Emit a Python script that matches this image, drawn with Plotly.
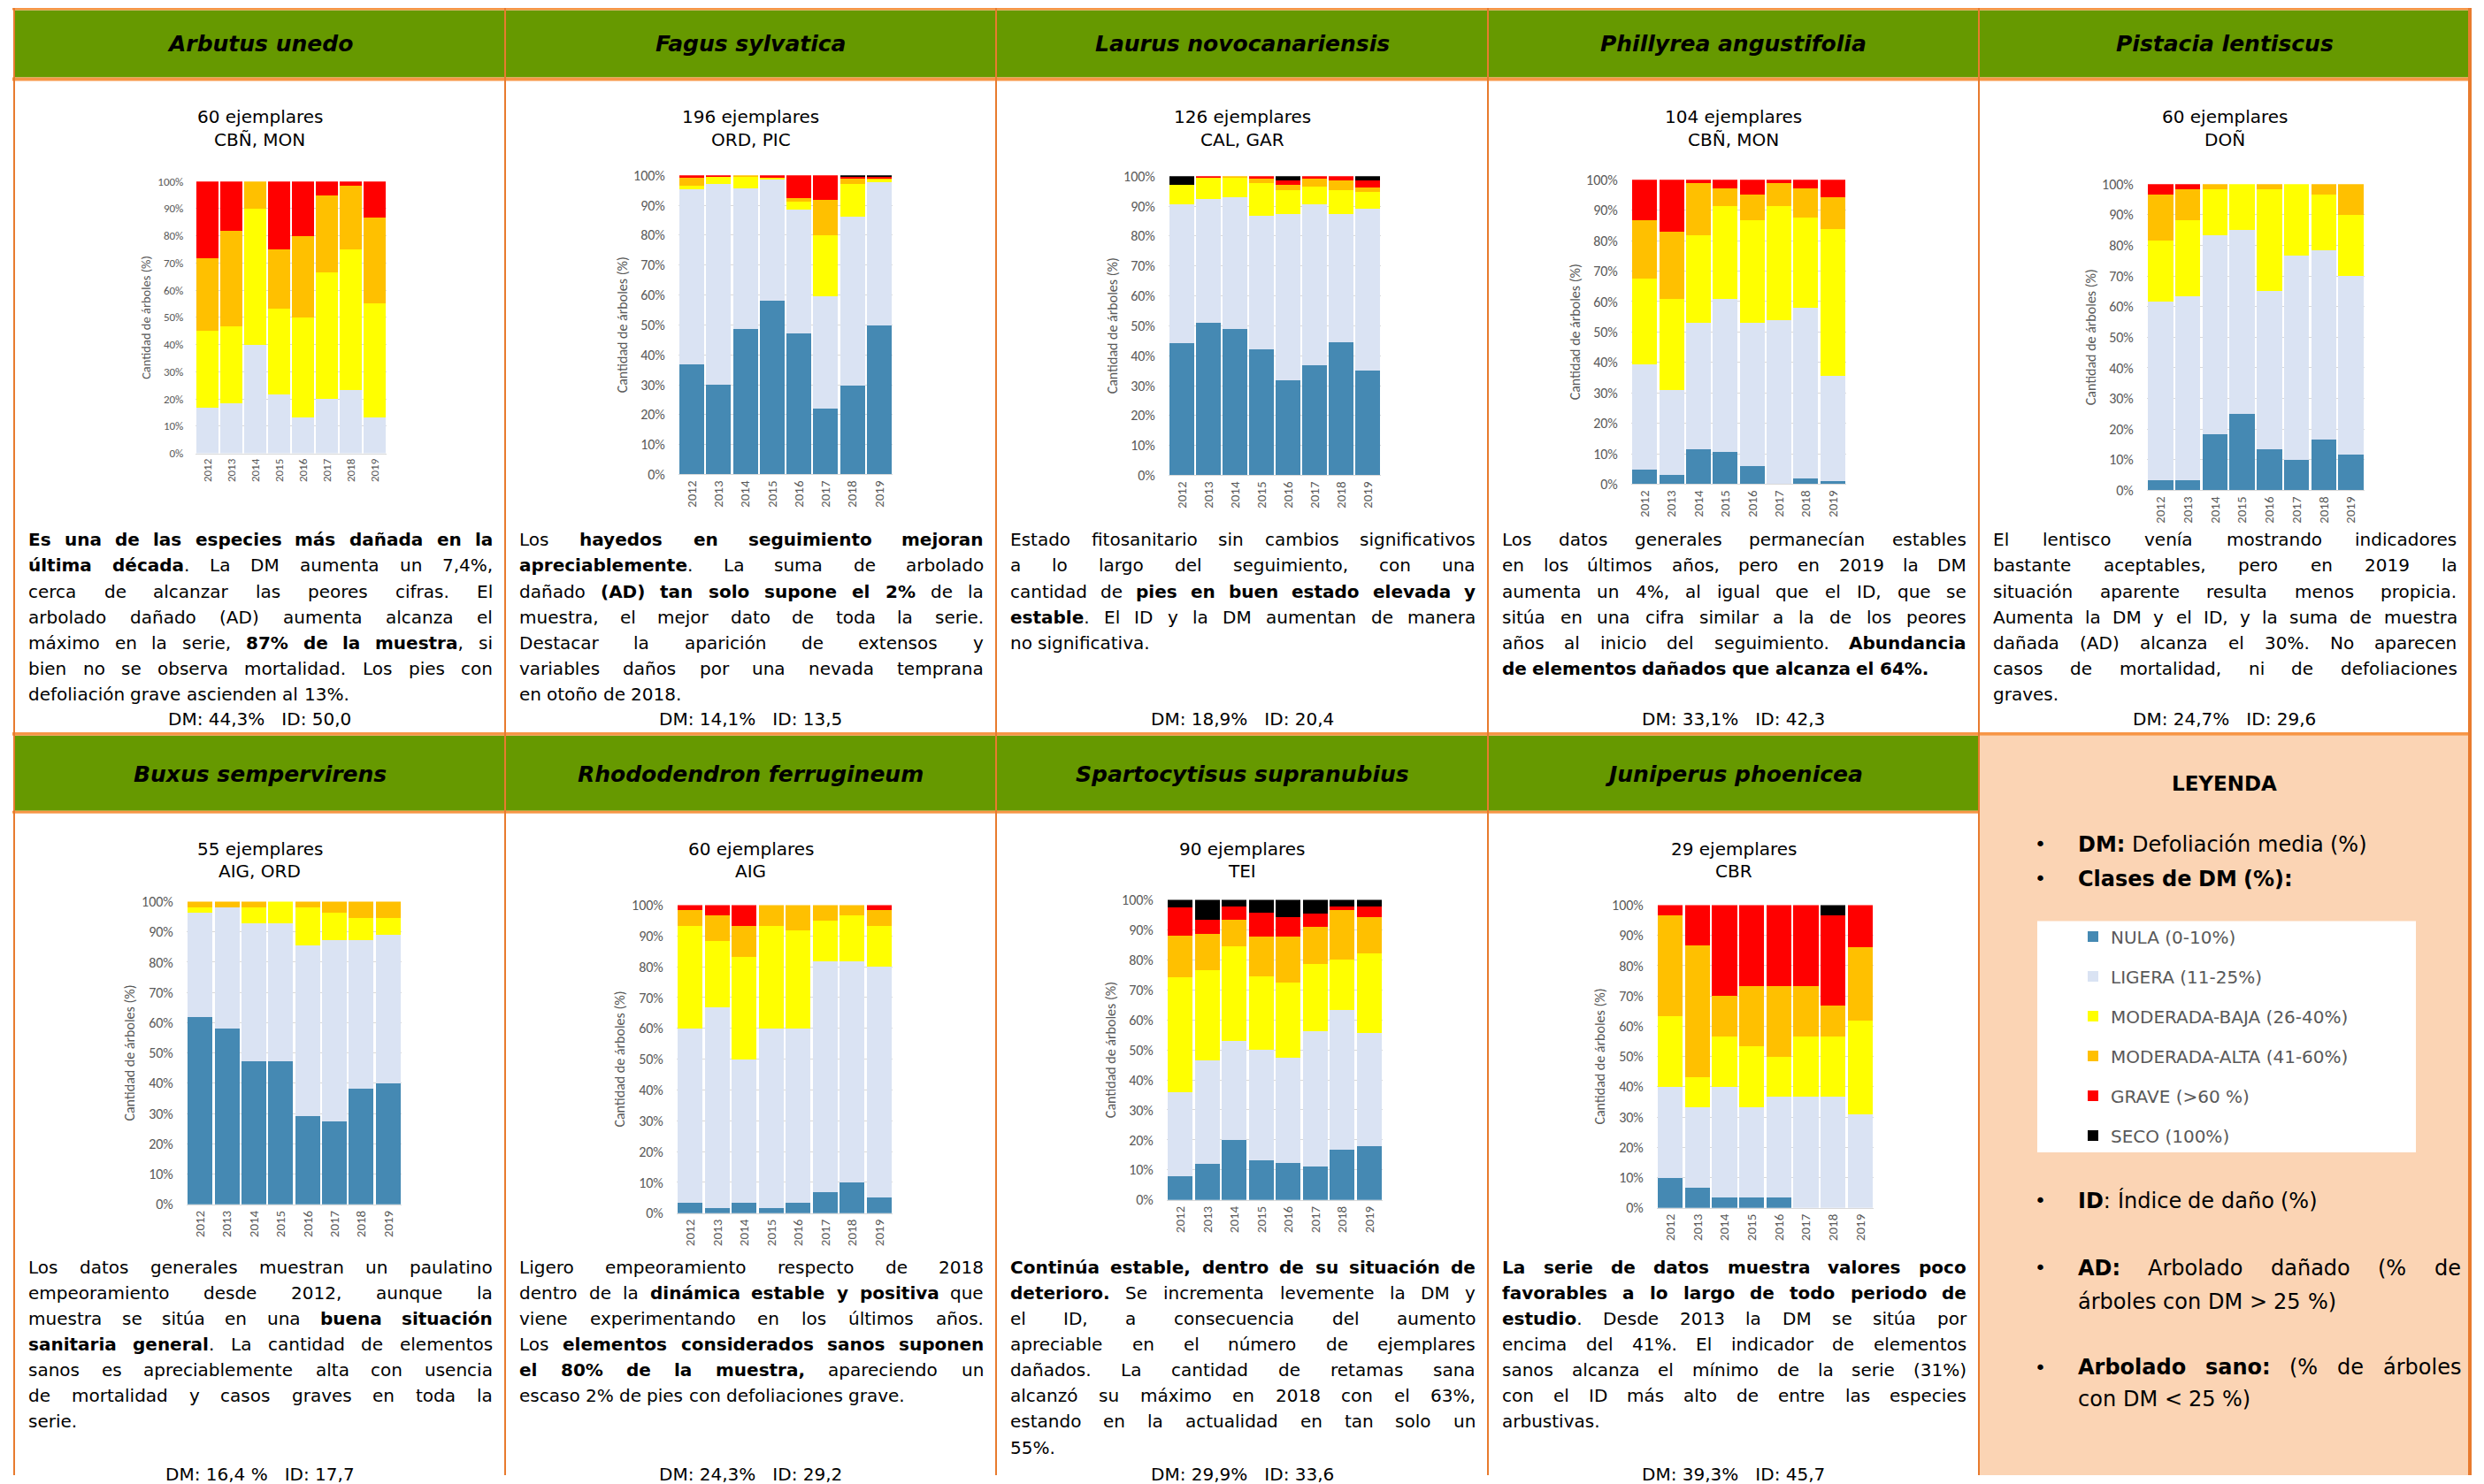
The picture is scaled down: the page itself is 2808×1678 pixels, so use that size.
import glob
import os
import struct

import plotly.graph_objects as go

W, H = 2808, 1678

# ---------------------------------------------------------------- data
years = ["2012", "2013", "2014", "2015", "2016", "2017", "2018", "2019"]
classes = ["NULA (0-10%)", "LIGERA (11-25%)", "MODERADA-BAJA (26-40%)",
           "MODERADA-ALTA (41-60%)", "GRAVE (>60 %)", "SECO (100%)"]
class_colors = ["#4589B3", "#DAE3F3", "#FFFF00", "#FFC000", "#FF0000", "#000000"]

# % of trees in each defoliation class (rows follow `classes`, columns follow `years`)
arbutus_unedo = [
    [0, 0, 0, 0, 0, 0, 0, 0],
    [16.7, 18.3, 40.0, 21.7, 13.3, 20.0, 23.3, 13.3],
    [28.3, 28.4, 50.0, 31.6, 36.7, 46.7, 51.7, 41.7],
    [26.7, 35.0, 10.0, 21.7, 30.0, 28.3, 23.3, 31.7],
    [28.3, 18.3, 0, 25.0, 20.0, 5.0, 1.7, 13.3],
    [0, 0, 0, 0, 0, 0, 0, 0],
]
fagus_sylvatica = [
    [36.9, 30.1, 48.6, 58.0, 47.0, 22.0, 29.6, 49.9],
    [58.4, 67.0, 47.0, 40.5, 41.4, 37.7, 56.6, 47.8],
    [1.3, 2.6, 4.1, 0.6, 2.8, 20.4, 11.0, 1.0],
    [2.7, 0, 0.3, 0, 1.2, 11.8, 1.9, 0.4],
    [0.7, 0.3, 0, 0.9, 7.6, 8.1, 0.4, 0.4],
    [0, 0, 0, 0, 0, 0, 0.5, 0.5],
]
laurus_novocanariensis = [
    [44.3, 50.9, 48.8, 42.1, 31.8, 36.7, 44.5, 35.0],
    [46.3, 41.4, 44.3, 44.7, 55.6, 53.9, 42.9, 54.2],
    [6.4, 7.2, 6.4, 11.0, 8.0, 5.8, 8.0, 5.6],
    [0, 0, 0.5, 1.5, 1.6, 2.9, 3.3, 1.5],
    [0, 0.5, 0, 0.7, 1.7, 0.7, 1.3, 2.4],
    [3.0, 0, 0, 0, 1.3, 0, 0, 1.3],
]
phillyrea_angustifolia = [
    [4.7, 3.0, 11.6, 10.5, 5.9, 0, 1.8, 0.9],
    [34.7, 27.8, 41.3, 50.2, 47.0, 53.9, 56.0, 34.7],
    [28.0, 29.9, 28.8, 30.6, 33.8, 37.4, 29.9, 48.2],
    [19.3, 22.1, 17.3, 5.9, 8.5, 7.7, 9.5, 10.4],
    [13.3, 17.2, 1.0, 2.8, 4.8, 1.0, 2.8, 5.8],
    [0, 0, 0, 0, 0, 0, 0, 0],
]
pistacia_lentiscus = [
    [3.3, 3.3, 18.3, 25.0, 13.3, 10.0, 16.7, 11.7],
    [58.3, 60.0, 65.0, 60.0, 51.7, 66.7, 61.6, 58.3],
    [20.0, 25.0, 15.0, 15.0, 33.3, 23.3, 18.4, 20.0],
    [15.0, 10.0, 1.7, 0, 1.7, 0, 3.3, 10.0],
    [3.4, 1.7, 0, 0, 0, 0, 0, 0],
    [0, 0, 0, 0, 0, 0, 0, 0],
]
buxus_sempervirens = [
    [61.8, 58.2, 47.3, 47.3, 29.1, 27.3, 38.2, 40.0],
    [34.6, 40.0, 45.5, 45.5, 56.4, 60.0, 49.1, 49.1],
    [1.8, 0, 5.4, 7.2, 12.7, 9.1, 7.2, 5.4],
    [1.8, 1.8, 1.8, 0, 1.8, 3.6, 5.5, 5.5],
    [0, 0, 0, 0, 0, 0, 0, 0],
    [0, 0, 0, 0, 0, 0, 0, 0],
]
rhododendron_ferrugineum = [
    [3.3, 1.7, 3.3, 1.7, 3.3, 6.7, 10.0, 5.0],
    [56.7, 65.0, 46.7, 58.3, 56.7, 75.0, 71.7, 75.0],
    [33.3, 21.6, 33.3, 33.3, 31.7, 13.3, 15.0, 13.3],
    [5.0, 8.4, 10.0, 6.7, 8.3, 5.0, 3.3, 5.0],
    [1.7, 3.3, 6.7, 0, 0, 0, 0, 1.7],
    [0, 0, 0, 0, 0, 0, 0, 0],
]
spartocytisus_supranubius = [
    [7.8, 12.0, 20.0, 13.3, 12.2, 11.1, 16.7, 17.8],
    [28.2, 34.6, 33.1, 36.7, 35.3, 45.0, 46.6, 37.8],
    [38.2, 29.9, 31.4, 24.5, 24.8, 22.5, 16.7, 26.6],
    [14.0, 12.2, 8.8, 13.2, 15.4, 12.4, 16.7, 12.1],
    [9.3, 4.6, 4.4, 7.9, 6.6, 4.4, 1.0, 3.4],
    [2.5, 6.7, 2.3, 4.4, 5.7, 4.6, 2.3, 2.3],
]
juniperus_phoenicea = [
    [10.0, 6.7, 3.3, 3.3, 3.3, 0, 0, 0],
    [30.0, 26.6, 36.7, 30.0, 33.4, 36.7, 36.7, 31.0],
    [23.3, 10.0, 16.7, 20.0, 13.3, 20.0, 20.0, 31.0],
    [33.4, 43.4, 13.3, 20.0, 23.3, 16.6, 10.0, 24.1],
    [3.3, 13.3, 30.0, 26.7, 26.7, 26.7, 30.0, 13.9],
    [0, 0, 0, 0, 0, 0, 3.3, 0],
]

species = ["Arbutus unedo", "Fagus sylvatica", "Laurus novocanariensis",
           "Phillyrea angustifolia", "Pistacia lentiscus", "Buxus sempervirens",
           "Rhododendron ferrugineum", "Spartocytisus supranubius", "Juniperus phoenicea"]
species_data = [arbutus_unedo, fagus_sylvatica, laurus_novocanariensis,
                phillyrea_angustifolia, pistacia_lentiscus, buxus_sempervirens,
                rhododendron_ferrugineum, spartocytisus_supranubius, juniperus_phoenicea]
sample_sizes = [60, 196, 126, 104, 60, 55, 60, 90, 29]
sites = ["CBÑ, MON", "ORD, PIC", "CAL, GAR", "CBÑ, MON", "DOÑ",
         "AIG, ORD", "AIG", "TEI", "CBR"]
dm_values = ["44,3%", "14,1%", "18,9%", "33,1%", "24,7%", "16,4 %", "24,3%", "29,9%", "39,3%"]
id_values = ["50,0", "13,5", "20,4", "42,3", "29,6", "17,7", "29,2", "33,6", "45,7"]

# commentary for each species; **...** marks bold runs
comments = [
    ["**Es una de las especies más dañada en la**",
     "**última década**. La DM aumenta un 7,4%,",
     "cerca de alcanzar las peores cifras. El",
     "arbolado dañado (AD) aumenta alcanza el",
     "máximo en la serie, **87% de la muestra**, si",
     "bien no se observa mortalidad. Los pies con",
     "defoliación grave ascienden al 13%."],
    ["Los **hayedos en seguimiento mejoran**",
     "**apreciablemente**. La suma de arbolado",
     "dañado **(AD) tan solo supone el 2%** de la",
     "muestra, el mejor dato de toda la serie.",
     "Destacar la aparición de extensos y",
     "variables daños por una nevada temprana",
     "en otoño de 2018."],
    ["Estado fitosanitario sin cambios significativos",
     "a lo largo del seguimiento, con una",
     "cantidad de **pies en buen estado elevada y**",
     "**estable**. El ID y la DM aumentan de manera",
     "no significativa."],
    ["Los datos generales permanecían estables",
     "en los últimos años, pero en 2019 la DM",
     "aumenta un 4%, al igual que el ID, que se",
     "sitúa en una cifra similar a la de los peores",
     "años al inicio del seguimiento. **Abundancia**",
     "**de elementos dañados que alcanza el 64%.**"],
    ["El lentisco venía mostrando indicadores",
     "bastante aceptables, pero en 2019 la",
     "situación aparente resulta menos propicia.",
     "Aumenta la DM y el ID, y la suma de muestra",
     "dañada (AD) alcanza el 30%. No aparecen",
     "casos de mortalidad, ni de defoliaciones",
     "graves."],
    ["Los datos generales muestran un paulatino",
     "empeoramiento desde 2012, aunque la",
     "muestra se sitúa en una **buena situación**",
     "**sanitaria general**. La cantidad de elementos",
     "sanos es apreciablemente alta con usencia",
     "de mortalidad y casos graves en toda la",
     "serie."],
    ["Ligero empeoramiento respecto de 2018",
     "dentro de la **dinámica estable y positiva** que",
     "viene experimentando en los últimos años.",
     "Los **elementos considerados sanos suponen**",
     "**el 80% de la muestra,** apareciendo un",
     "escaso 2% de pies con defoliaciones grave."],
    ["**Continúa estable, dentro de su situación de**",
     "**deterioro.** Se incrementa levemente la DM y",
     "el ID, a consecuencia del aumento",
     "apreciable en el número de ejemplares",
     "dañados. La cantidad de retamas sana",
     "alcanzó su máximo en 2018 con el 63%,",
     "estando en la actualidad en tan solo un",
     "55%."],
    ["**La serie de datos muestra valores poco**",
     "**favorables a lo largo de todo periodo de**",
     "**estudio**. Desde 2013 la DM se sitúa por",
     "encima del 41%. El indicador de elementos",
     "sanos alcanza el mínimo de la serie (31%)",
     "con el ID más alto de entre las especies",
     "arbustivas."],
]

# ---------------------------------------------------------------- styling / geometry
TEXT_FONT = "DejaVu Sans"
CHART_FONT = "Carlito, Lato, sans-serif"
GREEN = "#669900"
PEACH = "#FBD4B4"
ORANGE = "#F79646"
ORANGE_DARK = "#E87B2E"
AXIS_GREY = "#595959"
GRID = "#D9D9D9"

col_edges = [16, 571, 1126, 1682, 2237, 2792]
# plot areas in pixels: (left, right, top, bottom)
plot_boxes = [
    (221, 437, 204, 512), (767, 1009, 197, 536), (1321, 1561, 198, 537),
    (1844, 2087, 202, 547), (2427, 2673, 207, 554),
    (211, 454, 1020, 1363), (765, 1009, 1024, 1373), (1319, 1563, 1018, 1358),
    (1873, 2118, 1024, 1367),
]
row_geom = [
    dict(title_y=48, sub_y=(131, 157), para_y=610, dm_y=813),
    dict(title_y=876, sub_y=(960, 985), para_y=1434, dm_y=1669),
]
LINE_STEP = 29.2
BODY_SIZE = 20

# vertical calibration of page positions (offset in px, scale)
Y_OFFSET = 7.4
Y_SCALE = 0.99075


def px(x):
    return x / W


def py(y):
    return 1 - ((y - Y_OFFSET) / Y_SCALE) / H


# ---------------------------------------------------------------- font metrics (for justified text)
def _parse_ttf(path):
    data = open(path, "rb").read()
    num = struct.unpack(">H", data[4:6])[0]
    tables = {}
    for i in range(num):
        tag, _, off, _ = struct.unpack(">4sIII", data[12 + 16 * i: 28 + 16 * i])
        tables[tag.decode("latin-1")] = off
    head = tables["head"]
    upem = struct.unpack(">H", data[head + 18: head + 20])[0]
    hhea = tables["hhea"]
    n_hm = struct.unpack(">H", data[hhea + 34: hhea + 36])[0]
    hmtx = tables["hmtx"]
    adv = struct.unpack(">%dH" % (2 * n_hm), data[hmtx: hmtx + 4 * n_hm])[0::2]
    cmap = tables["cmap"]
    n_sub = struct.unpack(">H", data[cmap + 2: cmap + 4])[0]
    sub = None
    for i in range(n_sub):
        pid, eid, off = struct.unpack(">HHI", data[cmap + 4 + 8 * i: cmap + 12 + 8 * i])
        fmt = struct.unpack(">H", data[cmap + off: cmap + off + 2])[0]
        if fmt == 4 and (pid, eid) in ((3, 1), (0, 3), (0, 4), (0, 1), (0, 0)):
            sub = cmap + off
            break
    if sub is None:
        raise ValueError("no format 4 cmap")
    seg2 = struct.unpack(">H", data[sub + 6: sub + 8])[0]
    n = seg2 // 2
    ends = struct.unpack(">%dH" % n, data[sub + 14: sub + 14 + seg2])
    starts = struct.unpack(">%dH" % n, data[sub + 16 + seg2: sub + 16 + 2 * seg2])
    deltas = struct.unpack(">%dH" % n, data[sub + 16 + 2 * seg2: sub + 16 + 3 * seg2])
    ro_pos = sub + 16 + 3 * seg2
    ros = struct.unpack(">%dH" % n, data[ro_pos: ro_pos + seg2])

    def glyph(c):
        for k in range(n):
            if ends[k] >= c:
                if starts[k] > c:
                    return 0
                if ros[k] == 0:
                    return (c + deltas[k]) & 0xFFFF
                p = ro_pos + 2 * k + ros[k] + 2 * (c - starts[k])
                g = struct.unpack(">H", data[p: p + 2])[0]
                return (g + deltas[k]) & 0xFFFF if g else 0
        return 0

    cache = {}

    def advance(ch):
        if ch not in cache:
            cache[ch] = adv[min(glyph(ord(ch)), n_hm - 1)] / upem
        return cache[ch]

    return advance


def _find_font(name):
    roots = ["/usr/share/fonts", "/usr/local/share/fonts",
             os.path.expanduser("~/.fonts"), os.path.expanduser("~/.local/share/fonts")]
    for root in roots:
        hits = glob.glob(os.path.join(root, "**", name), recursive=True)
        if hits:
            try:
                return _parse_ttf(hits[0])
            except Exception:
                pass
    return None


_adv_regular = _find_font("DejaVuSans.ttf") or (lambda ch: 0.32 if ch == " " else 0.58)
_adv_bold = _find_font("DejaVuSans-Bold.ttf") or (lambda ch: 0.35 if ch == " " else 0.66)


def text_width(s, bold, size):
    f = _adv_bold if bold else _adv_regular
    return size * sum(f(ch) for ch in s)


def esc(s):
    return s.replace("&", "&amp;").replace("<", "&lt;").replace(">", "&gt;")


def tokenize(line):
    """Split a line into words; each word is a list of (text, bold) runs."""
    words, cur = [], []
    for i, seg in enumerate(line.split("**")):
        bold = i % 2 == 1
        for k, part in enumerate(seg.split(" ")):
            if k > 0 and cur:
                words.append(cur)
                cur = []
            if part:
                cur.append((part, bold))
    if cur:
        words.append(cur)
    return words


annotations = []


def add_text(x, y, text, size, color="#000000", xanchor="center", family=TEXT_FONT, angle=0):
    annotations.append(dict(x=px(x), y=py(y), xref="paper", yref="paper", text=text,
                            showarrow=False, xanchor=xanchor, yanchor="middle",
                            textangle=angle, font=dict(family=family, size=size, color=color)))


def place_line(line, x0, x1, y, size, justify):
    words = tokenize(line)
    if not words:
        return
    avail = x1 - x0

    def widths_at(sz):
        return [sum(text_width(t, b, sz) for t, b in w) for w in words]

    widths = widths_at(size)
    space = text_width(" ", False, size)
    natural = sum(widths) + space * (len(words) - 1)
    if natural > avail:
        size = size * avail / natural
        widths = widths_at(size)
        space = text_width(" ", False, size)
    if justify and len(words) > 1:
        gap = (avail - sum(widths)) / (len(words) - 1)
    else:
        gap = space
    x = x0
    for w, wd in zip(words, widths):
        html = "".join(("<b>%s</b>" % esc(t)) if b else esc(t) for t, b in w)
        add_text(x - 1, y, html, size, xanchor="left")
        x += wd + gap


def place_paragraph(lines, x0, x1, y0, step, size):
    for j, line in enumerate(lines):
        place_line(line, x0, x1, y0 + j * step, size, justify=(j < len(lines) - 1))


# ---------------------------------------------------------------- frame shapes
shapes = []


def rect(x0, y0, x1, y1, color):
    shapes.append(dict(type="rect", xref="paper", yref="paper",
                       x0=px(x0), x1=px(x1), y0=max(py(y1), 0.0), y1=min(py(y0), 1.0),
                       fillcolor=color, line=dict(width=0), layer="below"))


BOTTOM = H + 20
rect(16, 10, 2792, 86, GREEN)
rect(16, 832, 2237, 917, GREEN)
rect(2237, 832, 2792, BOTTOM, PEACH)
rect(2303, 1042, 2731, 1304, "#FFFFFF")
rect(14, 7, 2794, 10, ORANGE)
rect(14, 86, 2794, 90, ORANGE)
rect(14, 828, 2794, 832, ORANGE)
rect(14, 917, 2237, 920, ORANGE)
for xe in col_edges[:-1]:
    rect(xe - 1, 7, xe + 1, BOTTOM, ORANGE_DARK)
rect(2790, 7, 2794, BOTTOM, ORANGE_DARK)

# ---------------------------------------------------------------- figure
fig = go.Figure()
layout = {}

for i, (name, data) in enumerate(zip(species, species_data)):
    s = "" if i == 0 else str(i + 1)
    for k, cls in enumerate(classes):
        fig.add_trace(go.Bar(
            x=years, y=data[k], name=cls, marker=dict(color=class_colors[k], line=dict(width=0)),
            xaxis="x" + s, yaxis="y" + s, showlegend=(i == 0), legendgroup=cls,
            hoverinfo="skip"))

    x0, x1, y0, y1 = plot_boxes[i]
    small = i == 0
    y_font = dict(family=CHART_FONT, size=13 if small else 16, color=AXIS_GREY)
    x_font = dict(family=CHART_FONT, size=13 if small else 15, color=AXIS_GREY)
    layout["xaxis" + s] = dict(domain=[px(x0), px(x1)], anchor="y" + s, type="category",
                               tickangle=-90, tickfont=x_font, showgrid=False,
                               showline=True, linecolor=GRID, linewidth=1, ticks="",
                               fixedrange=True)
    layout["yaxis" + s] = dict(domain=[py(y1), py(y0)], anchor="x" + s, range=[0, 100],
                               tick0=0, dtick=10, ticksuffix="%", showgrid=True,
                               gridcolor=GRID, gridwidth=1, zeroline=False, showline=False,
                               ticks="outside", ticklen=10 if small else 11,
                               tickcolor="rgba(0,0,0,0)", tickfont=y_font,
                               fixedrange=True)
    add_text(x0 - (56 if small else 64), (y0 + y1) / 2, "Cantidad de árboles (%)",
             14.5 if small else 16, color=AXIS_GREY, family=CHART_FONT, angle=-90)

    # cell texts
    row, col = divmod(i, 5)
    g = row_geom[row]
    cx = (col_edges[col] + col_edges[col + 1]) / 2
    add_text(cx, g["title_y"], "<b><i>%s</i></b>" % name, 25)
    add_text(cx, g["sub_y"][0], "%d ejemplares" % sample_sizes[i], 20)
    add_text(cx, g["sub_y"][1], sites[i], 20)
    place_paragraph(comments[i], col_edges[col] + 15, col_edges[col + 1] - 15,
                    g["para_y"], LINE_STEP, BODY_SIZE)
    add_text(cx, g["dm_y"], "DM: %s\u00a0\u00a0\u00a0ID: %s" % (dm_values[i], id_values[i]), 20)

# ---------------------------------------------------------------- legend cell
add_text(2514, 886, "<b>LEYENDA</b>", 23)
LEG_SIZE = 24
legend_lines = [
    (955, "**DM:** Defoliación media (%)", False, True),
    (994, "**Clases de DM (%):**", False, True),
    (1359, "**ID**: Índice de daño (%)", False, True),
    (1435, "**AD:** Arbolado dañado (% de", True, True),
    (1473, "árboles con DM > 25 %)", False, False),
    (1548, "**Arbolado sano:** (% de árboles", True, True),
    (1584, "con DM < 25 %)", False, False),
]
for y, line, just, bullet in legend_lines:
    place_line(line, 2348, 2781, y, LEG_SIZE, just)
    if bullet:
        add_text(2306, y, "•", 22)

layout.update(
    width=W, height=H, autosize=False,
    margin=dict(l=0, r=0, t=0, b=0, pad=0),
    paper_bgcolor="#FFFFFF", plot_bgcolor="rgba(0,0,0,0)",
    barmode="stack", bargap=0.08,
    showlegend=True,
    legend=dict(x=px(2346), y=py(1040), xanchor="left", yanchor="top",
                bgcolor="rgba(0,0,0,0)", borderwidth=0, traceorder="grouped",
                tracegroupgap=16, itemclick=False, itemdoubleclick=False,
                font=dict(family=TEXT_FONT, size=20, color=AXIS_GREY)),
    shapes=shapes, annotations=annotations, hovermode=False,
)
fig.update_layout(**layout)
fig.write_html("out.html", config={"displayModeBar": False})
